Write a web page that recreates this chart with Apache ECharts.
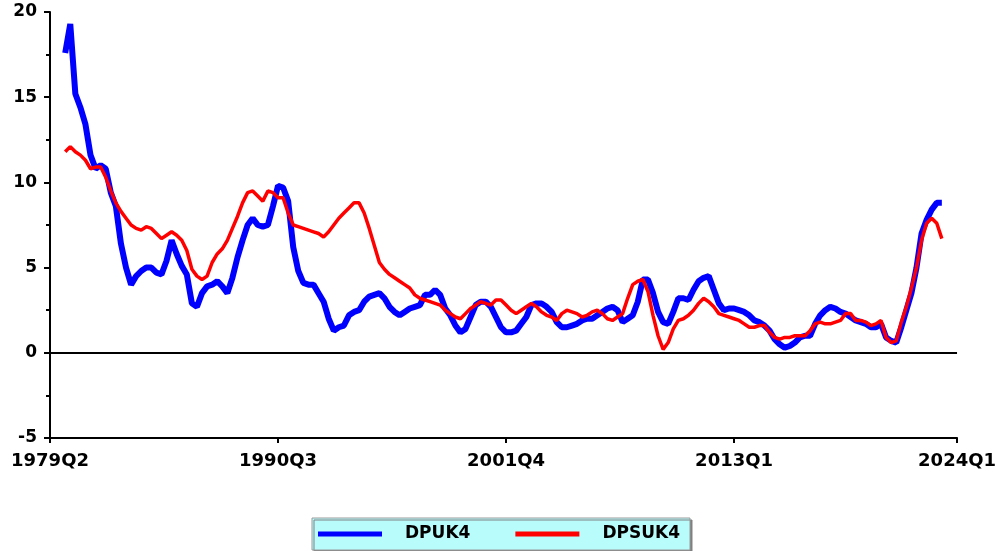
<!DOCTYPE html>
<html>
<head>
<meta charset="utf-8">
<script src="https://cdn.jsdelivr.net/npm/echarts@6/dist/echarts.min.js"></script>
<style>
html,body{margin:0;padding:0;background:#fff;}
#c{width:999px;height:551px;}
</style>
</head>
<body>
<div id="c"></div>
<script>
// Quarterly categories 1979Q2 .. 2024Q1
var categories = [];
(function(){
  var y = 1979, q = 2;
  while (!(y === 2024 && q === 2)) {
    categories.push(y + 'Q' + q);
    q++; if (q > 4) { q = 1; y++; }
  }
})();

var yTicks = [-5, 0, 5, 10, 15, 20];

// DPUK4 (blue), starting 1980Q1 (index 3)
var dpuk4 = [null, null, null,
  17.6, 19.3, 15.2, 14.4, 13.4, 11.6, 10.8, 11.0, 10.8, 9.4,
  8.6, 6.4, 5.0, 4.0, 4.5, 4.8, 5.0, 5.0, 4.7, 4.6,
  5.4, 6.6, 5.8, 5.1, 4.6, 2.9, 2.7, 3.5, 3.9, 4.0,
  4.2, 3.9, 3.5, 4.4, 5.6, 6.6, 7.5, 7.9, 7.5, 7.4,
  7.5, 8.6, 9.8, 9.7, 8.9, 6.2, 4.8, 4.1, 4.0, 4.0,
  3.5, 3.0, 2.0, 1.3, 1.5, 1.6, 2.2, 2.4, 2.5, 3.0,
  3.3, 3.4, 3.5, 3.2, 2.7, 2.4, 2.2, 2.4, 2.6, 2.7,
  2.8, 3.4, 3.4, 3.7, 3.4, 2.6, 2.2, 1.6, 1.2, 1.4,
  2.1, 2.8, 3.0, 3.0, 2.7, 2.1, 1.5, 1.2, 1.2, 1.3,
  1.7, 2.1, 2.8, 2.9, 2.9, 2.7, 2.4, 1.8, 1.5, 1.5,
  1.6, 1.7, 1.9, 2.0, 2.0, 2.2, 2.4, 2.6, 2.7, 2.5,
  1.8, 2.0, 2.2, 3.0, 4.3, 4.3, 3.5, 2.4, 1.8, 1.7,
  2.4, 3.2, 3.2, 3.1, 3.7, 4.2, 4.4, 4.5, 3.7, 2.9,
  2.5, 2.6, 2.6, 2.5, 2.4, 2.2, 1.9, 1.8, 1.6, 1.3,
  0.8, 0.5, 0.3, 0.4, 0.6, 0.9, 1.0, 1.0, 1.7, 2.2,
  2.5, 2.7, 2.6, 2.4, 2.3, 2.1, 1.9, 1.8, 1.7, 1.5,
  1.5, 1.7, 0.9, 0.7, 0.6, 1.5, 2.5, 3.5, 5.0, 7.0,
  7.8, 8.4, 8.8, 8.8];

// DPSUK4 (red), starting 1980Q1 (index 3)
var dpsuk4 = [null, null, null,
  11.8, 12.1, 11.8, 11.6, 11.3, 10.8, 10.9, 10.9, 10.3, 9.5,
  8.8, 8.3, 7.9, 7.5, 7.3, 7.2, 7.4, 7.3, 7.0, 6.7,
  6.9, 7.1, 6.9, 6.6, 6.0, 4.9, 4.5, 4.3, 4.5, 5.3,
  5.8, 6.1, 6.6, 7.3, 8.0, 8.8, 9.4, 9.5, 9.2, 8.9,
  9.5, 9.4, 9.1, 9.1, 8.2, 7.5, 7.4, 7.3, 7.2, 7.1,
  7.0, 6.8, 7.1, 7.5, 7.9, 8.2, 8.5, 8.8, 8.8, 8.2,
  7.3, 6.3, 5.3, 4.9, 4.6, 4.4, 4.2, 4.0, 3.8, 3.4,
  3.2, 3.1, 3.0, 2.9, 2.8, 2.5, 2.3, 2.1, 2.0, 2.3,
  2.6, 2.8, 3.0, 2.9, 2.8, 3.1, 3.1, 2.8, 2.5, 2.3,
  2.5, 2.7, 2.9, 2.7, 2.4, 2.2, 2.1, 1.9, 2.3, 2.5,
  2.4, 2.3, 2.1, 2.2, 2.4, 2.5, 2.3, 2.0, 1.9, 2.1,
  2.3, 3.2, 4.0, 4.2, 4.3, 3.6, 2.2, 1.0, 0.2, 0.6,
  1.4, 1.9, 2.0, 2.2, 2.5, 2.9, 3.2, 3.0, 2.7, 2.3,
  2.2, 2.1, 2.0, 1.9, 1.7, 1.5, 1.5, 1.6, 1.6, 1.2,
  0.9, 0.8, 0.9, 0.9, 1.0, 1.0, 1.0, 1.3, 1.7, 1.8,
  1.7, 1.7, 1.8, 1.9, 2.3, 2.3, 1.9, 1.9, 1.8, 1.6,
  1.7, 1.9, 0.9, 0.6, 0.7, 1.8, 2.7, 3.8, 5.0, 6.6,
  7.6, 7.9, 7.6, 6.7];

var FONT = 'DejaVu Sans';
var chart = echarts.init(document.getElementById('c'), null, {renderer: 'canvas'});
chart.setOption({
  animation: false,
  backgroundColor: '#ffffff',
  grid: {left: 50, right: 41, top: 12, bottom: 113, containLabel: false},
  legend: {
    left: 312, top: 518,
    padding: [6, 10, 6, 6],
    itemGap: 45,
    itemWidth: 64, itemHeight: 5,
    icon: 'rect',
    backgroundColor: '#b8fcfc',
    borderColor: '#9a9a9a', borderWidth: 1,
    shadowColor: '#808080', shadowOffsetX: 2, shadowOffsetY: 2, shadowBlur: 0,
    textStyle: {fontFamily: FONT, fontWeight: 'bold', fontSize: 17, color: '#000', padding: [0, 0, 0, 18], lineHeight: 20},
    data: ['DPUK4', 'DPSUK4']
  },
  xAxis: {
    type: 'category',
    data: categories,
    boundaryGap: false,
    axisLine: {show: true, onZero: false, lineStyle: {color: '#000', width: 2}},
    axisTick: {show: true, interval: 44, length: 5, lineStyle: {color: '#000', width: 2}},
    axisLabel: {interval: 44, showMaxLabel: true, showMinLabel: true, hideOverlap: false, margin: 14, color: '#000', fontFamily: FONT, fontWeight: 'bold', fontSize: 18},
    splitLine: {show: false}
  },
  yAxis: {
    type: 'value',
    min: yTicks[0], max: yTicks[yTicks.length - 1], interval: 5,
    axisLine: {show: true, lineStyle: {color: '#000', width: 2}},
    axisTick: {show: true, length: 6, lineStyle: {color: '#000', width: 2}},
    minorTick: {show: true, splitNumber: 2, length: 4, lineStyle: {color: '#000', width: 2}},
    axisLabel: {margin: 13, color: '#000', fontFamily: FONT, fontWeight: 'bold', fontSize: 17},
    splitLine: {show: false}
  },
  series: [
    {
      name: 'DPUK4', type: 'line', data: dpuk4,
      showSymbol: false, symbol: 'none',
      lineStyle: {color: '#0000ff', width: 6},
      itemStyle: {color: '#0000ff'},
      markLine: {
        silent: true, symbol: 'none', label: {show: false},
        lineStyle: {color: '#000', width: 2, type: 'solid'},
        data: [{yAxis: 0}]
      },
      z: 2
    },
    {
      name: 'DPSUK4', type: 'line', data: dpsuk4,
      showSymbol: false, symbol: 'none',
      lineStyle: {color: '#ff0000', width: 3.5},
      itemStyle: {color: '#ff0000'},
      z: 3
    }
  ]
});
</script>
</body>
</html>
